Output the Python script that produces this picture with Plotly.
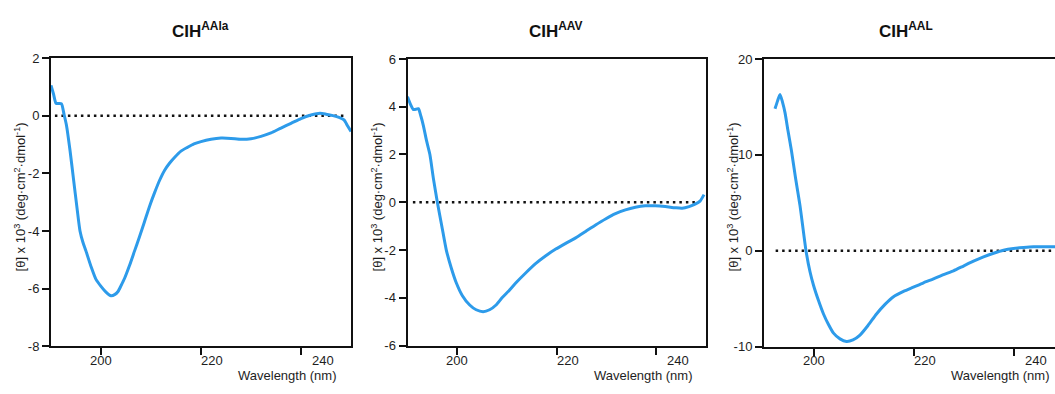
import plotly.graph_objects as go

W, H = 1055, 394

# ---------------- data ----------------
titles = ["CIH<sup>AAla</sup>", "CIH<sup>AAV</sup>", "CIH<sup>AAL</sup>"]

wl_aala = [190.0, 190.5, 191.0, 191.6, 192.1, 192.6, 193.1, 193.8, 194.5, 195.2,
           195.8, 196.4, 197.0, 198.0, 199.0, 200.0, 201.0, 202.0, 202.8, 203.4,
           204.0, 204.7, 205.7, 206.7, 207.7, 208.7, 209.7, 210.7, 211.7, 212.7,
           213.7, 214.7, 216.0, 217.3, 218.6, 220.0, 222.0, 224.0, 226.0, 228.0,
           230.0, 232.0, 234.0, 236.0, 238.0, 240.0, 242.0, 243.8, 245.0, 246.4,
           247.6, 248.6, 249.3, 250.0]
cd_aala = [1.05, 0.75, 0.43, 0.42, 0.41, 0.05, -0.34, -1.2, -2.2, -3.2,
           -4.0, -4.4, -4.7, -5.23, -5.68, -5.92, -6.12, -6.25, -6.2, -6.1,
           -5.9, -5.65, -5.2, -4.7, -4.2, -3.68, -3.15, -2.68, -2.25, -1.9,
           -1.65, -1.45, -1.23, -1.1, -0.98, -0.9, -0.82, -0.78, -0.79, -0.82,
           -0.8, -0.72, -0.6, -0.43, -0.27, -0.1, 0.02, 0.08, 0.05, 0.0,
           -0.06, -0.15, -0.35, -0.55]

wl_aav = [190.0, 190.6, 191.2, 191.8, 192.2, 192.7, 193.2, 193.8, 194.5, 195.2,
          196.0, 196.9, 197.8, 198.8, 199.8, 201.0, 202.5, 203.8, 205.2, 206.5,
          207.8, 209.0, 210.4, 211.8, 213.8, 215.8, 217.8, 219.8, 221.8, 223.8,
          225.8, 227.8, 229.8, 231.8, 233.8, 235.8, 237.8, 239.8, 241.8, 243.8,
          245.2, 246.6, 247.8, 248.8, 249.6]
cd_aav = [4.42, 4.1, 3.88, 3.9, 3.92, 3.6, 3.2, 2.6, 2.0, 1.0,
          0.0, -1.0, -2.0, -2.75, -3.37, -3.9, -4.3, -4.5, -4.58, -4.5,
          -4.3, -4.0, -3.7, -3.37, -2.95, -2.56, -2.24, -1.96, -1.72, -1.49,
          -1.22, -0.95, -0.7, -0.48, -0.32, -0.21, -0.15, -0.15, -0.18, -0.23,
          -0.25, -0.18, -0.08, 0.05, 0.32]

wl_aal = [192.2, 192.7, 193.2, 193.7, 194.2, 194.8, 195.5, 196.3, 197.2, 198.4,
          199.2, 199.9, 200.9, 201.9, 202.9, 203.9, 205.2, 206.5, 207.8, 209.2,
          210.8, 212.5, 214.2, 215.9, 217.9, 219.9, 221.9, 223.9, 225.9, 227.9,
          229.9, 231.9, 233.9, 235.9, 237.9, 239.9, 241.9, 243.9, 245.9, 247.9,
          250.0]
cd_aal = [14.8, 15.6, 16.3, 15.5, 14.4, 12.5, 10.4, 7.6, 4.7, 0.0,
          -2.2, -3.6, -5.2, -6.6, -7.7, -8.6, -9.2, -9.46, -9.3, -8.8,
          -7.8, -6.6, -5.6, -4.8, -4.25, -3.8, -3.35, -2.94, -2.5, -2.1,
          -1.6, -1.1, -0.65, -0.27, 0.05, 0.23, 0.33, 0.4, 0.4, 0.4,
          0.4]

x_tickvals = [200, 220, 240]
x_ticktext = ["200", "220", "240"]

y_ranges = [[-8, 2], [-6, 6], [-10, 20]]
y_tickvals = [[-8, -6, -4, -2, 0, 2], [-6, -4, -2, 0, 2, 4, 6], [-10, 0, 10, 20]]
y_ticktext = [["-8", "-6", "-4", "-2", "0", "2"],
              ["-6", "-4", "-2", "0", "2", "4", "6"],
              ["-10", "0", "10", "20"]]

x_title = "Wavelength (nm)"
y_title = "[θ] x 10<sup>3</sup> (deg·cm<sup>2</sup>·dmol<sup>-1</sup>)"

# ---------------- layout geometry (pixels) ----------------
def px(x):
    return x / W

def py(y):
    return 1 - y / H

panels = [
    dict(x0=51, x1=351, y0=53, y1=352.7, xr=[190, 250], ymirror=True,
         title_x=200, xt_right=339, yt_x=20, dot=[0.013, 0.98]),
    dict(x0=407.5, x1=706, y0=54, y1=352, xr=[190, 250], ymirror=True,
         title_x=556, xt_right=695, yt_x=377, dot=[0.018, 0.97]),
    dict(x0=764, x1=1055, y0=54, y1=353, xr=[190, 190 + (1055 - 764) / 5], ymirror=False,
         title_x=906, xt_right=1052, yt_x=733, dot=[0.04, 1.0]),
]
series = [(wl_aala, cd_aala), (wl_aav, cd_aav), (wl_aal, cd_aal)]
label_shift = [0, 11, 22]

LINE_BLUE = "#2D9BEA"
FONT = "Liberation Sans, Arial, sans-serif"
TXT = "#1e1e1e"

fig = go.Figure()
layout = dict(width=W, height=H, margin=dict(l=0, r=0, t=0, b=0),
              paper_bgcolor="white", plot_bgcolor="white", showlegend=False,
              font=dict(family=FONT, size=13, color=TXT))
annotations = []
shapes = []

for i, (p, (wx, wy)) in enumerate(zip(panels, series)):
    n = "" if i == 0 else str(i + 1)
    xa, ya = "xaxis" + n, "yaxis" + n
    xref, yref = "x" + n, "y" + n
    layout[xa] = dict(domain=[px(p["x0"]), px(p["x1"])], range=p["xr"], anchor=yref,
                      showgrid=False, zeroline=False, showline=True, linecolor="#111",
                      linewidth=2, mirror=True, ticks="outside", ticklen=7, tickwidth=2,
                      tickcolor="#111", tickvals=x_tickvals, showticklabels=False)
    layout[ya] = dict(domain=[py(p["y1"]), py(p["y0"])], range=y_ranges[i], anchor=xref,
                      showgrid=False, zeroline=False, showline=True, linecolor="#111",
                      linewidth=2, mirror=p["ymirror"], ticks="outside", ticklen=7,
                      tickwidth=2, tickcolor="#111", tickvals=y_tickvals[i],
                      ticktext=y_ticktext[i],
                      tickfont=dict(size=13, color=TXT), ticklabelstandoff=0)
    # zero reference line
    shapes.append(dict(type="line", xref=xref + " domain", yref=yref,
                       x0=p["dot"][0], x1=p["dot"][1], y0=0, y1=0,
                       line=dict(color="#111", width=2.5, dash="2.5px,4px"), layer="below"))
    fig.add_trace(go.Scatter(x=wx, y=wy, xaxis=xref, yaxis=yref, mode="lines",
                             line=dict(color=LINE_BLUE, width=3, shape="spline", smoothing=0.6),
                             hoverinfo="skip"))
    # x tick labels
    for v, t, s in zip(x_tickvals, x_ticktext, label_shift):
        annotations.append(dict(x=v, y=py(368), xref=xref, yref="paper", text=t,
                                showarrow=False, xshift=s, xanchor="center", yanchor="middle",
                                font=dict(size=13, color=TXT)))
    # panel title
    annotations.append(dict(x=px(p["title_x"]), y=py(24), xref="paper", yref="paper",
                            text="<b>" + titles[i] + "</b>", showarrow=False,
                            xanchor="center", yanchor="middle",
                            font=dict(size=17, color="#111")))
    # x axis title
    annotations.append(dict(x=px(p["xt_right"]), y=py(383), xref="paper", yref="paper",
                            text=x_title, showarrow=False, xanchor="right", yanchor="middle",
                            font=dict(size=13, color=TXT)))
    # y axis title
    annotations.append(dict(x=px(p["yt_x"]), y=py(198), xref="paper", yref="paper",
                            text=y_title, showarrow=False, textangle=-90,
                            xanchor="center", yanchor="middle",
                            font=dict(size=13, color=TXT)))

layout["annotations"] = annotations
layout["shapes"] = shapes
fig.update_layout(**layout)
fig.write_html("out.html")
